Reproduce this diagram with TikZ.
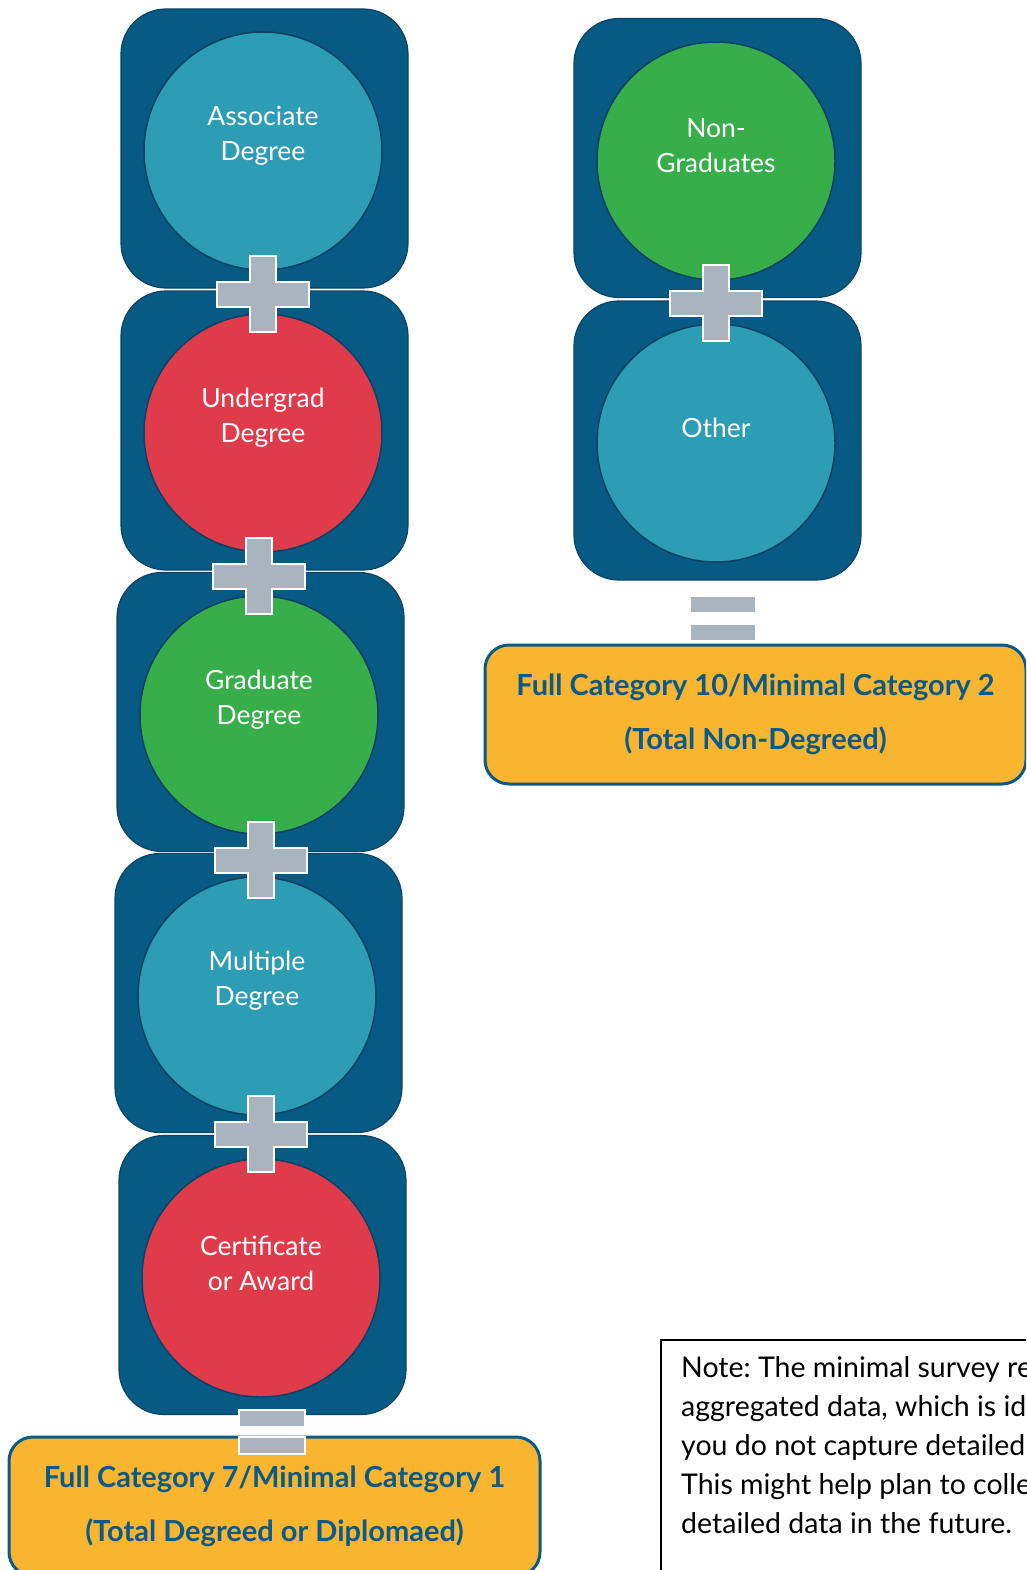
\documentclass[tikz,border=0pt]{standalone}
\usepackage{fontspec}
\setmainfont{Lato}
\usetikzlibrary{positioning}

\definecolor{tileblue}{HTML}{065A83}
\definecolor{tileedge}{HTML}{0B4566}
\definecolor{ringedge}{HTML}{0B4263}
\definecolor{degteal}{HTML}{2C9DB5}
\definecolor{degred}{HTML}{E03B4B}
\definecolor{deggreen}{HTML}{38AE4A}
\definecolor{signgray}{HTML}{A9B4BF}
\definecolor{totalorange}{HTML}{F9B52F}
\definecolor{totalblue}{HTML}{0A5A89}

\begin{document}
\frenchspacing
\begin{tikzpicture} [
    x=1pt, y=-1pt,
    tile/.style={rectangle, draw=tileedge, line width=1.2pt, fill=tileblue, minimum width=287pt, minimum height=279pt, rounded corners=45pt},
    degree/.style={circle, draw=ringedge, line width=1.5pt, minimum size=238pt, inner sep=0pt},
    degtext/.style={font=\fontsize{26.5}{35}\selectfont, text=white, align=center, inner sep=0pt},
    total/.style={rectangle, draw=totalblue, line width=3pt, fill=totalorange, rounded corners=24pt, font=\bfseries\fontsize{29}{54}\selectfont, text=totalblue, align=center},
    notebox/.style={rectangle, draw=black, line width=1.5pt, fill=white},
    plussign/.style={draw=white, line width=2pt, fill=signgray},
    eqbar/.style={rectangle, draw=white, line width=2pt, fill=signgray, minimum width=66pt, minimum height=17pt, inner sep=0pt}
]

\useasboundingbox (0,0) rectangle (1026,1570);
\clip (0,0) rectangle (1026,1570);

% LAYER 1: Tiles behind the circles
\node[tile] (tile_assoc) at (264.5,148.5) {};
\node[tile] (tile_under) at (264.5,430.5) {};
\node[tile] (tile_grad) at (260.5,712) {};
\node[tile] (tile_multi) at (258.5,993) {};
\node[tile] (tile_cert) at (262.5,1275) {};

\node[tile] (tile_nongrad) at (717.5,158) {};
\node[tile] (tile_other) at (717.5,440.5) {};

% LAYER 2: Degree circles with labels
\node[degree, fill=degteal] (assoc) at (263,151) {};
\node[degtext] at ([yshift=15pt]assoc.center) {Associate\\Degree};

\node[degree, fill=degred] (under) at (263,433) {};
\node[degtext] at ([yshift=15pt]under.center) {Undergrad\\Degree};

\node[degree, fill=deggreen] (grad) at (259,715) {};
\node[degtext] at ([yshift=15pt]grad.center) {Graduate\\Degree};

\node[degree, fill=degteal] (multi) at (257,996) {};
\node[degtext] at ([yshift=15pt]multi.center) {Multiple\\Degree};

\node[degree, fill=degred] (cert) at (261,1278) {};
\node[degtext] at ([yshift=15pt]cert.center) {Certificate\\or Award};

\node[degree, fill=deggreen] (nongrad) at (716,161) {};
\node[degtext] at ([yshift=15pt]nongrad.center) {Non-\\Graduates};

\node[degree, fill=degteal] (other) at (716,443) {};
\node[degtext] at ([yshift=15pt]other.center) {Other};

% LAYER 3: Totals and note
\node[total, minimum width=531pt, minimum height=139pt] (total_deg) at (274.5,1506.5) {Full Category 7/Minimal Category 1\\(Total Degreed or Diplomaed)};
\node[total, minimum width=541pt, minimum height=139pt] (total_nondeg) at (755.5,714.5) {Full Category 10/Minimal Category 2\\(Total Non-Degreed)};

\node[notebox, anchor=north west, minimum width=440pt, minimum height=300pt] (note) at (660,1339) {};
\node[anchor=north west, inner sep=0pt, align=left, font=\fontsize{28.5}{39}\selectfont] (note_text) at (681,1356) {Note: The minimal survey requires\\aggregated data, which is ideal if\\you do not capture detailed data.\\This might help plan to collect\\detailed data in the future.};

% LAYER 4: Plus and equal signs on top
\foreach \px/\py in {263/294, 259/576, 261/860, 261/1134, 716/303} {
    \draw[plussign, shift={(\px,\py)}] (-13,-38) -- (13,-38) -- (13,-12.5) -- (46,-12.5) -- (46,12.5) -- (13,12.5) -- (13,38) -- (-13,38) -- (-13,12.5) -- (-46,12.5) -- (-46,-12.5) -- (-13,-12.5) -- cycle;
}

\node[eqbar] (eq_deg_top) at (272,1418) {};
\node[eqbar] (eq_deg_bot) at (272,1445) {};
\node[eqbar] (eq_non_top) at (723,604) {};
\node[eqbar] (eq_non_bot) at (723,632) {};

\end{tikzpicture}
\end{document}
